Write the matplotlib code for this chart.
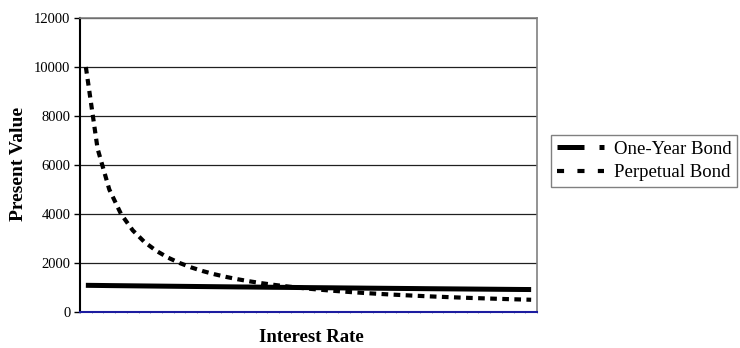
import matplotlib.pyplot as plt
from matplotlib.lines import Line2D
import numpy as np

plt.rcParams['font.family'] = ['Liberation Serif', 'DejaVu Serif']

# interest rates (categories, not labelled on the chart)
rates = [0.010, 0.015, 0.020, 0.025, 0.030, 0.035, 0.040, 0.045, 0.050, 0.055,
         0.060, 0.065, 0.070, 0.075, 0.080, 0.085, 0.090, 0.095, 0.100, 0.105,
         0.110, 0.115, 0.120, 0.125, 0.130, 0.135, 0.140, 0.145, 0.150, 0.155,
         0.160, 0.165, 0.170, 0.175, 0.180, 0.185, 0.190, 0.195, 0.200]

one_year = [1089, 1084, 1078, 1073, 1068, 1063, 1058, 1053, 1048, 1043,
            1038, 1033, 1028, 1023, 1019, 1014, 1009, 1005, 1000, 995,
            991, 987, 982, 978, 973, 969, 965, 961, 957, 952,
            948, 944, 940, 936, 932, 928, 924, 920, 917]

perpetual = [10000, 6667, 5000, 4000, 3333, 2857, 2500, 2222, 2000, 1818,
             1667, 1538, 1429, 1333, 1250, 1176, 1111, 1053, 1000, 952,
             909, 870, 833, 800, 769, 741, 714, 690, 667, 645,
             625, 606, 588, 571, 556, 541, 526, 513, 500]

fig = plt.figure(figsize=(7.4, 3.48), dpi=100)
ax = fig.add_axes([80 / 740, 1 - 312 / 348, 457 / 740, 294 / 348])

x = np.arange(len(rates))
ax.plot(x, one_year, color='black', lw=3.6, solid_capstyle='butt', zorder=3)
ax.plot(x, perpetual, color='black', lw=3.0, dashes=(1.6, 1.3), zorder=3)

ax.set_xlim(-0.5, len(rates) - 0.5)
ax.set_ylim(0, 12000)
ax.set_yticks(range(0, 12001, 2000))
ax.yaxis.grid(True, color='#202020', lw=0.9)
ax.set_axisbelow(True)

# category axis: small tick marks, no labels
ax.set_xticks(np.arange(len(rates) + 1) - 0.5)
ax.set_xticklabels([])
ax.tick_params(axis='x', length=2, width=0.6, color='#8080b0', direction='inout')
ax.tick_params(axis='y', length=4, width=1, labelsize=10.5, pad=3)

ax.spines['left'].set_color('black')
ax.spines['left'].set_linewidth(1.5)
ax.spines['bottom'].set_color('#1c1ca0')
ax.spines['bottom'].set_linewidth(1.5)
ax.spines['bottom'].set_zorder(4)
ax.spines['top'].set_color('#808080')
ax.spines['right'].set_color('#808080')
ax.spines['top'].set_linewidth(1.2)
ax.spines['right'].set_linewidth(1.2)

fig.text(19 / 740, 1 - 164 / 348, 'Present Value', rotation=90, fontsize=14,
         fontweight='bold', ha='center', va='center')
fig.text(311 / 740, 1 - 338 / 348, 'Interest Rate', fontsize=13.5,
         fontweight='bold', ha='center', va='center')

handles = [Line2D([], [], color='black', lw=3.6, dashes=(5.4, 3.0, 1.4, 3.0)),
           Line2D([], [], color='black', lw=3.0, dashes=(1.7, 3.2))]
leg = fig.legend(handles, ['One-Year Bond', 'Perpetual Bond'],
                 loc='upper left', bbox_to_anchor=(551 / 740, 1 - 135 / 348),
                 fontsize=13.5, frameon=True, fancybox=False, handlelength=2.5,
                 handletextpad=0.55, borderpad=0.3, labelspacing=0.35,
                 borderaxespad=0)
leg.get_frame().set_edgecolor('#606060')
leg.get_frame().set_linewidth(1.0)

fig.savefig('out.png', dpi=100)
